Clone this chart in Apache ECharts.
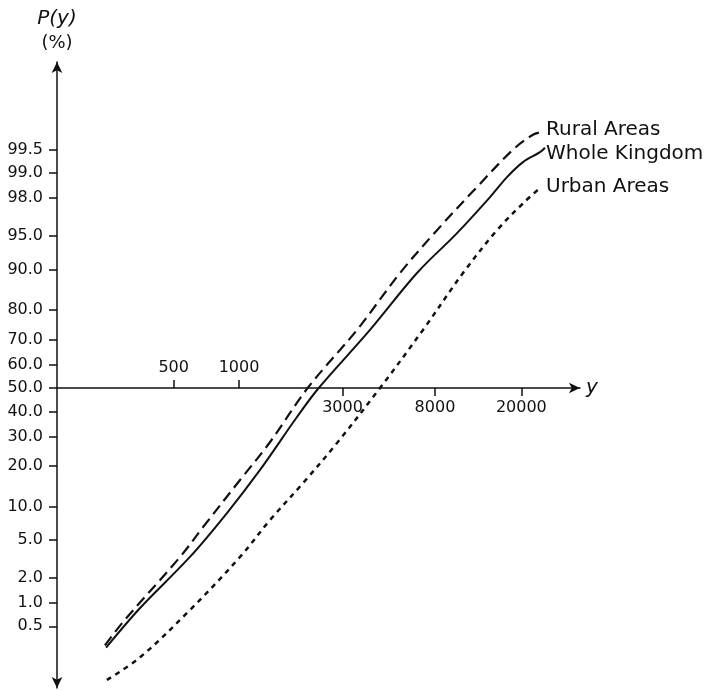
<!DOCTYPE html>
<html>
<head>
    <meta charset="utf-8">
    <title>P(y) - income distribution</title>
    <script src="https://cdn.jsdelivr.net/npm/echarts@6/dist/echarts.min.js"></script>
    <style>
        html, body { margin: 0; padding: 0; background: #fff; }
        #chart1 { width: 708px; height: 690px; }
    </style>
</head>
<body>
<div id="chart1"></div>
<script>
    // 数据：收入 y 与累计百分比 P(y)
    var incomeRural = [241, 292, 535, 683, 1011, 1380, 2080, 3498, 5520, 8176, 12500, 18310, 22630, 25170];
    var pctRural    = [0.27, 0.57, 3.39, 6.64, 16.0, 27.6, 50.2, 73.5, 89.3, 95.6, 98.51, 99.50, 99.69, 99.72];

    var incomeWhole = [244, 350, 594, 880, 1250, 1850, 2330, 4015, 6610, 10110, 14350, 17180, 20360, 24380, 25700];
    var pctWhole    = [0.25, 0.87, 3.39, 8.83, 18.8, 37.7, 50.0, 73.5, 89.3, 95.3, 98.05, 98.87, 99.27, 99.46, 99.53];

    var incomeUrban = [246, 350, 594, 1011, 1390, 1972, 2829, 4465, 7045, 10770, 15450, 20360, 24380];
    var pctUrban    = [0.08, 0.18, 0.82, 3.39, 7.68, 15.2, 27.6, 50.0, 73.5, 89.3, 95.6, 97.7, 98.47];

    var yTicks = [99.5, 99.0, 98.0, 95.0, 90.0, 80.0, 70.0, 60.0, 50.0, 40.0, 30.0, 20.0, 10.0, 5.0, 2.0, 1.0, 0.5];
    var xTicksAbove = [500, 1000];
    var xTicksBelow = [3000, 8000, 20000];

    // 正态分布反函数 (Acklam)
    function probit(p) {
        var a = [-3.969683028665376e+01, 2.209460984245205e+02, -2.759285104469687e+02, 1.383577518672690e+02, -3.066479806614716e+01, 2.506628277459239e+00];
        var b = [-5.447609879822406e+01, 1.615858368580409e+02, -1.556989798598866e+02, 6.680131188771972e+01, -1.328068155288572e+01];
        var c = [-7.784894002430293e-03, -3.223964580411365e-01, -2.400758277161838e+00, -2.549732539343734e+00, 4.374664141464968e+00, 2.938163982698783e+00];
        var d = [7.784695709041462e-03, 3.224671290700398e-01, 2.445134137142996e+00, 3.754408661907416e+00];
        var pl = 0.02425, q, r;
        if (p < pl) {
            q = Math.sqrt(-2 * Math.log(p));
            return (((((c[0]*q+c[1])*q+c[2])*q+c[3])*q+c[4])*q+c[5]) / ((((d[0]*q+d[1])*q+d[2])*q+d[3])*q+1);
        }
        if (p > 1 - pl) {
            q = Math.sqrt(-2 * Math.log(1 - p));
            return -(((((c[0]*q+c[1])*q+c[2])*q+c[3])*q+c[4])*q+c[5]) / ((((d[0]*q+d[1])*q+d[2])*q+d[3])*q+1);
        }
        q = p - 0.5; r = q * q;
        return (((((a[0]*r+a[1])*r+a[2])*r+a[3])*r+a[4])*r+a[5])*q / (((((b[0]*r+b[1])*r+b[2])*r+b[3])*r+b[4])*r+1);
    }

    function toPoints(income, pct) {
        return income.map(function (v, i) {
            return [Math.log10(v), probit(pct[i] / 100)];
        });
    }

    var yTickVals = yTicks.map(function (t) { return probit(t / 100); });
    var font = 'DejaVu Sans';
    var ink = '#111';

    var xMin = 2.1613, xMax = 4.5714;
    var yMin = -3.243, yMax = 3.524;
    var gridTop = 62, gridBottom = 2, gridH = 690 - gridTop - gridBottom;
    // 横轴放在 P=50% 处
    var zeroFromTop = gridH * yMax / (yMax - yMin);

    function xAxisPart(pos, ticks, showLine, offset) {
        var vals = ticks.map(function (t) { return Math.log10(t); });
        return {
            type: 'value',
            position: pos,
            offset: offset,
            min: xMin,
            max: xMax,
            splitLine: { show: false },
            axisLine: {
                show: showLine,
                onZero: false,
                symbol: ['none', 'arrow'],
                symbolSize: [8, 11],
                lineStyle: { color: ink, width: 1.5 }
            },
            axisTick: { customValues: vals, length: 8, lineStyle: { color: ink, width: 1.5 } },
            axisLabel: {
                customValues: vals,
                margin: 12,
                color: ink,
                fontFamily: font,
                fontSize: 16,
                formatter: function (v) { return String(Math.round(Math.pow(10, v))); }
            }
        };
    }

    var xTop = xAxisPart('top', xTicksAbove, true, -zeroFromTop);
    xTop.name = 'y';
    xTop.nameLocation = 'end';
    xTop.nameGap = 6;
    xTop.nameTextStyle = { fontFamily: font, fontStyle: 'italic', fontSize: 20, color: ink };
    var xBottom = xAxisPart('bottom', xTicksBelow, false, -(gridH - zeroFromTop));

    function lineSeries(name, income, pct, dash, width, offset) {
        return {
            name: name,
            type: 'line',
            xAxisIndex: 0,
            smooth: 0.35,
            showSymbol: false,
            silent: true,
            data: toPoints(income, pct),
            lineStyle: { color: ink, width: width, type: dash },
            endLabel: {
                show: true,
                formatter: '{a}',
                distance: 3,
                offset: offset,
                color: ink,
                fontFamily: font,
                fontSize: 20
            }
        };
    }

    var myChart1 = echarts.init(document.getElementById('chart1'));
    myChart1.setOption({
        animation: false,
        backgroundColor: '#fff',
        grid: { left: 57, right: 128, top: gridTop, bottom: gridBottom, containLabel: false, outerBoundsMode: 'none' },
        xAxis: [xTop, xBottom],
        yAxis: {
            type: 'value',
            min: yMin,
            max: yMax,
            name: '{p|P(y)}\n{q|(%)}',
            nameLocation: 'end',
            nameGap: 6,
            nameTextStyle: {
                color: ink,
                align: 'center',
                rich: {
                    p: { fontFamily: font, fontStyle: 'italic', fontSize: 20, color: ink, lineHeight: 25 },
                    q: { fontFamily: font, fontSize: 18, color: ink, lineHeight: 25 }
                }
            },
            splitLine: { show: false },
            axisLine: {
                show: true,
                onZero: false,
                symbol: ['arrow', 'arrow'],
                symbolSize: [8, 11],
                lineStyle: { color: ink, width: 1.5 }
            },
            axisTick: { customValues: yTickVals, length: 8, lineStyle: { color: ink, width: 1.5 } },
            axisLabel: {
                customValues: yTickVals,
                margin: 14,
                color: ink,
                fontFamily: font,
                fontSize: 16,
                formatter: function (v) {
                    var i = yTickVals.findIndex(function (t) { return Math.abs(t - v) < 1e-6; });
                    return i >= 0 ? yTicks[i].toFixed(1) : '';
                }
            }
        },
        series: [
            lineSeries('Rural Areas', incomeRural, pctRural, [11, 6], 2.2, [0, -2]),
            lineSeries('Whole Kingdom', incomeWhole, pctWhole, 'solid', 2, [-2, 6]),
            lineSeries('Urban Areas', incomeUrban, pctUrban, [5, 5], 2.5, [3, -1])
        ]
    });
</script>
</body>
</html>
